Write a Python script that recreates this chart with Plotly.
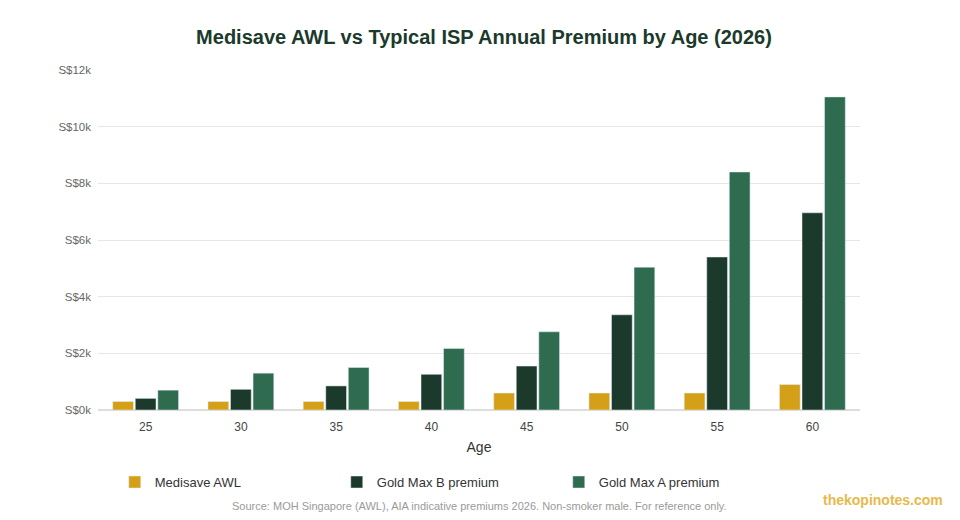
import plotly.graph_objects as go

ages = ["25", "30", "35", "40", "45", "50", "55", "60"]
medisave_awl = [300, 300, 300, 300, 600, 600, 600, 900]
gold_max_b = [410, 730, 850, 1260, 1550, 3360, 5400, 6960]
gold_max_a = [700, 1300, 1500, 2170, 2760, 5040, 8400, 11050]
y_tickvals = [0, 2000, 4000, 6000, 8000, 10000, 12000]
y_ticktext = ["S$0k", "S$2k", "S$4k", "S$6k", "S$8k", "S$10k", "S$12k"]

FONT = "Liberation Sans, Arial, sans-serif"

fig = go.Figure()
fig.add_trace(go.Bar(x=ages, y=medisave_awl, name="Medisave AWL", marker_color="#D4A017"))
fig.add_trace(go.Bar(x=ages, y=gold_max_b, name="Gold Max B premium", marker_color="#1C3A2B"))
fig.add_trace(go.Bar(x=ages, y=gold_max_a, name="Gold Max A premium", marker_color="#2E6B4F"))

fig.update_layout(
    width=952, height=512,
    margin=dict(l=90, r=100, t=62, b=110),
    paper_bgcolor="white", plot_bgcolor="white",
    font=dict(family=FONT, size=12, color="#555"),
    title=dict(text="<b>Medisave AWL vs Typical ISP Annual Premium by Age (2026)</b>",
               x=0.5, xanchor="center", y=1 - 29 / 512, yanchor="middle",
               font=dict(family=FONT, size=20, color="#1B3A2B")),
    barmode="group", bargap=0.29, bargroupgap=0.08,
    showlegend=True,
    legend=dict(orientation="h", x=0.022, xanchor="left", y=-0.212, yanchor="middle",
                entrywidth=177, entrywidthmode="pixels",
                font=dict(family=FONT, size=13, color="#333"), itemclick=False),
    xaxis=dict(title=dict(text="Age", font=dict(size=14, color="#333"), standoff=8),
               tickfont=dict(size=12, color="#444"), showgrid=False, showline=False,
               ticks="outside", ticklen=6, tickcolor="rgba(0,0,0,0)"),
    yaxis=dict(range=[0, 12000], tickvals=y_tickvals, ticktext=y_ticktext,
               tickfont=dict(size=11.5, color="#666"), showgrid=True, gridcolor="#e6e6e6",
               zeroline=True, zerolinecolor="#dddddd", zerolinewidth=2, ticks="",
               ticklabelstandoff=6),
)

fig.add_annotation(text="Source: MOH Singapore (AWL), AIA indicative premiums 2026. Non-smoker male. For reference only.",
                   xref="paper", yref="paper", x=0.5, y=-0.282, xanchor="center", yanchor="middle",
                   showarrow=False, font=dict(family=FONT, size=11, color="#9a9a9a"))
fig.add_annotation(text="<b>thekopinotes.com</b>", xref="paper", yref="paper",
                   x=1.1115, y=-0.265, xanchor="right", yanchor="middle",
                   showarrow=False, font=dict(family=FONT, size=14, color="#E8B94A"))

fig.write_html("out.html")
